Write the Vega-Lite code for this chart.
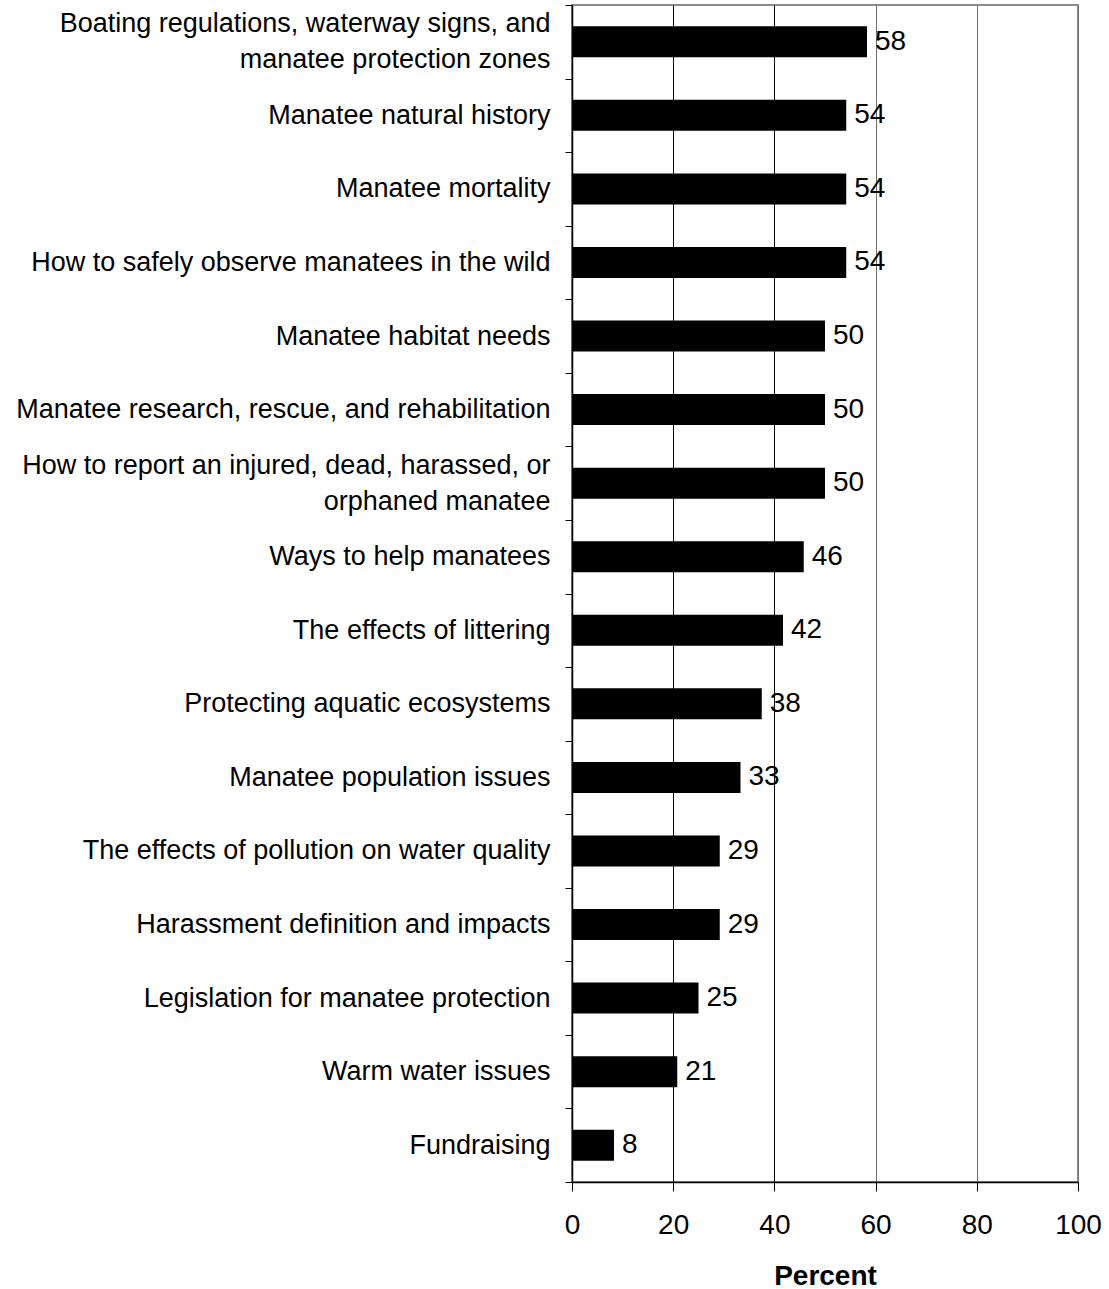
{
  "$schema": "https://vega.github.io/schema/vega-lite/v6.json",
  "width": 506,
  "height": 1177,
  "autosize": {"type": "none"},
  "padding": {"left": 572, "top": 5, "right": 31, "bottom": 107},
  "background": "white",
  "config": {
    "font": "Liberation Sans",
    "view": {"stroke": "#8c8c8c", "strokeWidth": 2}
  },
  "data": {
    "values": [
      {"topic": "Boating regulations, waterway signs, and|manatee protection zones", "percent": 58.3},
      {"topic": "Manatee natural history", "percent": 54.2},
      {"topic": "Manatee mortality", "percent": 54.2},
      {"topic": "How to safely observe manatees in the wild", "percent": 54.2},
      {"topic": "Manatee habitat needs", "percent": 50.0},
      {"topic": "Manatee research, rescue, and rehabilitation", "percent": 50.0},
      {"topic": "How to report an injured, dead, harassed, or|orphaned manatee", "percent": 50.0},
      {"topic": "Ways to help manatees", "percent": 45.8},
      {"topic": "The effects of littering", "percent": 41.7},
      {"topic": "Protecting aquatic ecosystems", "percent": 37.5},
      {"topic": "Manatee population issues", "percent": 33.3},
      {"topic": "The effects of pollution on water quality", "percent": 29.2},
      {"topic": "Harassment definition and impacts", "percent": 29.2},
      {"topic": "Legislation for manatee protection", "percent": 25.0},
      {"topic": "Warm water issues", "percent": 20.8},
      {"topic": "Fundraising", "percent": 8.3}
    ]
  },
  "encoding": {
    "y": {
      "field": "topic",
      "type": "nominal",
      "sort": null,
      "scale": {"paddingInner": 0, "paddingOuter": 0},
      "axis": {
        "title": null,
        "labelExpr": "split(datum.label, '|')",
        "labelFontSize": 27,
        "labelColor": "black",
        "labelLineHeight": 36,
        "labelPadding": 15,
        "labelLimit": 600,
        "labelOffset": {"condition": {"test": "indexof(datum.label, '|') >= 0", "value": -18}, "value": 0},
        "tickBand": "extent",
        "tickSize": 7,
        "tickColor": "black",
        "domainColor": "black",
        "domainWidth": 1.5,
        "grid": false
      }
    },
    "x": {
      "field": "percent",
      "type": "quantitative",
      "scale": {"domain": [0, 100], "nice": false},
      "axis": {
        "title": "Percent",
        "titleFontSize": 28,
        "titleFontWeight": "bold",
        "titleColor": "black",
        "titlePadding": 23,
        "values": [0, 20, 40, 60, 80, 100],
        "labelFontSize": 28,
        "labelColor": "black",
        "labelPadding": 20,
        "labelFlush": false,
        "tickSize": 9,
        "tickColor": "black",
        "domainColor": "black",
        "domainWidth": 1.5,
        "grid": true,
        "gridColor": {"condition": {"test": "datum.value <= 40", "value": "#000000"}, "value": "#707070"},
        "gridWidth": 1,
        "gridOpacity": 1
      }
    }
  },
  "layer": [
    {"mark": {"type": "bar", "color": "black", "height": {"band": 0.421}}},
    {
      "mark": {"type": "text", "align": "left", "baseline": "middle", "dx": 8, "fontSize": 28, "color": "black"},
      "encoding": {"text": {"field": "percent", "type": "quantitative", "format": ".0f"}}
    }
  ]
}
